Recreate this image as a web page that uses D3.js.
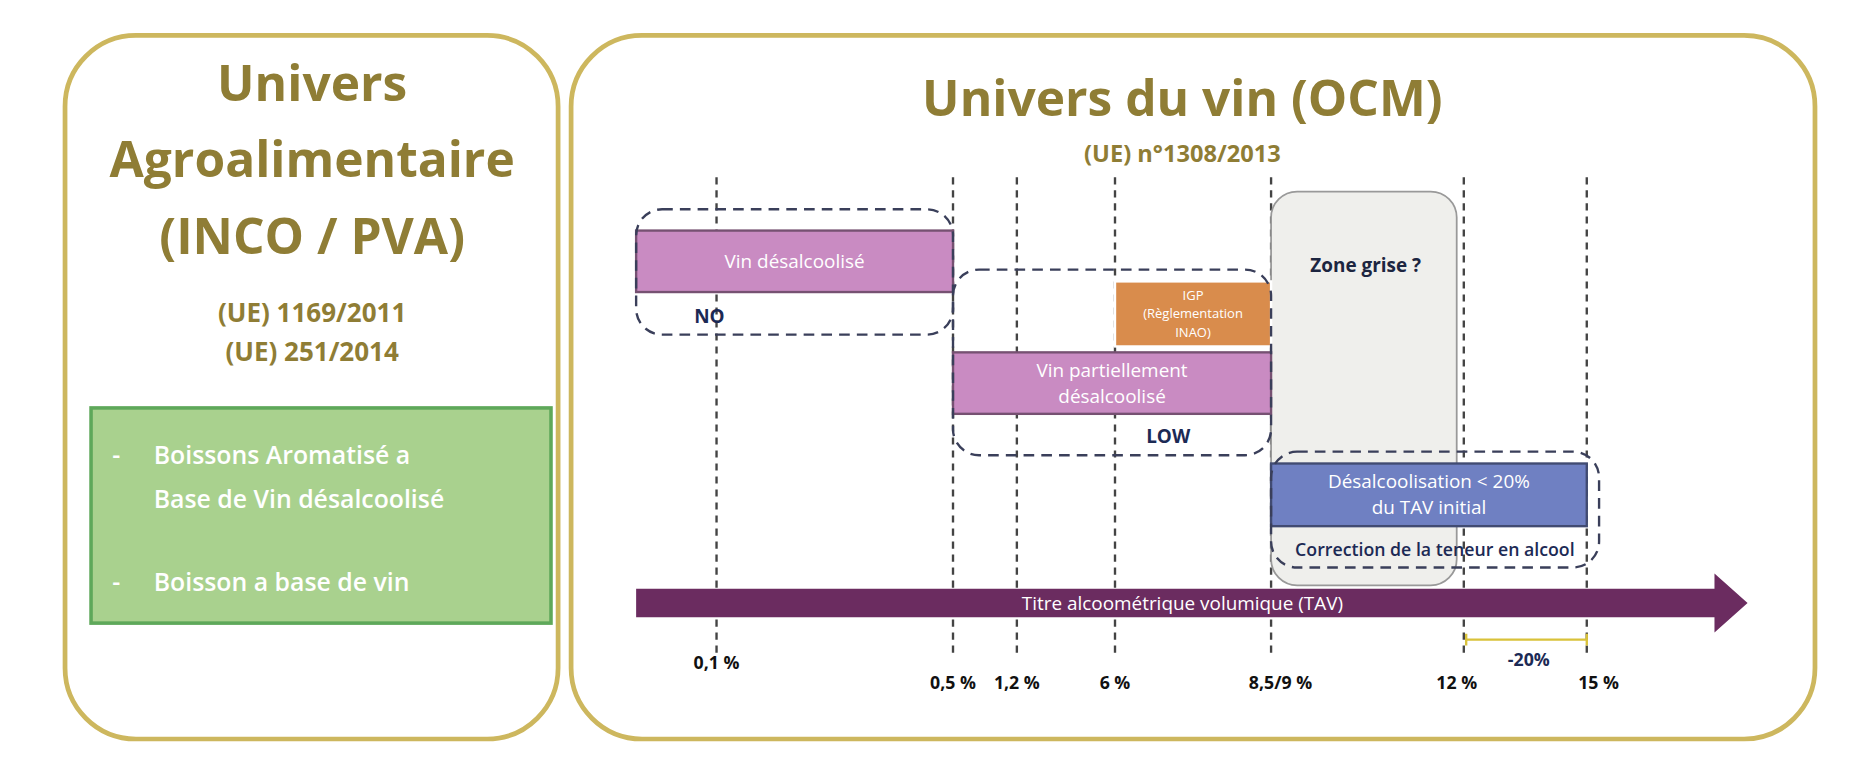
<!DOCTYPE html>
<html><head><meta charset="utf-8">
<script src="https://cdn.jsdelivr.net/npm/d3@7"></script>
<style>body{margin:0;background:#fff}text{font-family:"Open Sans",Lato,sans-serif}</style>
</head><body><div id="chart"></div>
<script>
const tickLabels = ['0,1 %', '0,5 %', '1,2 %', '6 %', '8,5/9 %', '12 %', '15 %']
const tickIndex = [0, 1, 2, 3, 4, 5, 6]
const bars = [
  {label: ['Vin désalcoolisé'], from: -0.6, to: 1, row: 0, fill: '#c98bc2'},
  {label: ['IGP', '(Règlementation', 'INAO)'], from: 3, to: 4, row: 1, fill: '#d98c4c'},
  {label: ['Vin partiellement', 'désalcoolisé'], from: 1, to: 4, row: 2, fill: '#c98bc2'},
  {label: ['Désalcoolisation < 20%', 'du TAV initial'], from: 4, to: 6, row: 3, fill: '#6f80c2'}
]
const groups = [
  {label: 'NO', from: -0.6, to: 1, y0: 177, y1: 283},
  {label: 'LOW', from: 1, to: 4, y0: 228, y1: 385},
  {label: 'Correction de la teneur en alcool', from: 4, to: 6.1, y0: 382, y1: 480}
]

const svg0 = d3.select('#chart').append('svg').attr('width', 1854).attr('height', 778)
// the layout was measured on a 1568px wide copy, scale it up to the page
const svg = svg0.append('g').attr('transform', `scale(${1854 / 1568})`)
const gold = '#8f7d35'

// piecewise position scale for the TAV thresholds
const x = d3.scaleLinear().domain([-0.6, 0, 1, 2, 3, 4, 5, 6])
  .range([538, 606, 806, 860, 943, 1075, 1238, 1342])

// frames
svg.append('rect').attr('x', 55).attr('y', 30).attr('width', 417).attr('height', 595).attr('rx', 60)
  .attr('fill', 'none').attr('stroke', '#cdb75e').attr('stroke-width', 4)
svg.append('rect').attr('x', 483).attr('y', 30).attr('width', 1052).attr('height', 595).attr('rx', 60)
  .attr('fill', 'none').attr('stroke', '#cdb75e').attr('stroke-width', 4)

// left panel
const left = [['Univers', 85, 42], ['Agroalimentaire', 150, 42], ['(INCO / PVA)', 215, 42], ['(UE) 1169/2011', 272, 22], ['(UE) 251/2014', 305, 22]]
left.forEach(([t, y, s]) => svg.append('text').attr('x', 264).attr('y', y).attr('text-anchor', 'middle')
  .attr('font-size', s).attr('font-weight', 'bold').attr('fill', gold).text(t))
svg.append('rect').attr('x', 77).attr('y', 345).attr('width', 389).attr('height', 182)
  .attr('fill', '#a9d18e').attr('stroke', '#5ea85a').attr('stroke-width', 3)
const greenTxt = [['-', 95, 392], ['Boissons Aromatisé a', 130, 392], ['Base de Vin désalcoolisé', 130, 430], ['-', 95, 500], ['Boisson a base de vin', 130, 500]]
greenTxt.forEach(([t, xx, y]) => svg.append('text').attr('x', xx).attr('y', y).attr('font-size', 21)
  .attr('font-weight', 600).attr('fill', '#fff').text(t))

// right title
svg.append('text').attr('x', 1000).attr('y', 98).attr('text-anchor', 'middle').attr('font-size', 42)
  .attr('font-weight', 'bold').attr('fill', gold).text('Univers du vin (OCM)')
svg.append('text').attr('x', 1000).attr('y', 137).attr('text-anchor', 'middle').attr('font-size', 20)
  .attr('font-weight', 'bold').attr('fill', gold).text('(UE) n°1308/2013')

// dashed verticals
svg.selectAll('line.v').data(tickIndex).enter().append('line')
  .attr('x1', d => x(d)).attr('x2', d => x(d)).attr('y1', 150).attr('y2', 555)
  .attr('stroke', '#444').attr('stroke-width', 2).attr('stroke-dasharray', '6,5')

// zone grise
svg.append('rect').attr('x', x(4)).attr('y', 162).attr('width', 157).attr('height', 333).attr('rx', 22)
  .attr('fill', '#efefec').attr('stroke', '#999').attr('stroke-width', 1.5)
svg.append('text').attr('x', x(4) + 80).attr('y', 230).attr('text-anchor', 'middle').attr('font-size', 16)
  .attr('font-weight', 'bold').attr('fill', '#1c2540').text('Zone grise ?')

// bars
const rowY = [195, 238, 298, 392], rowH = [52, 55, 52, 53]
bars.forEach(b => {
  const y = rowY[b.row], h = rowH[b.row]
  svg.append('rect').attr('x', x(b.from)).attr('y', y).attr('width', x(b.to) - x(b.from)).attr('height', h)
    .attr('fill', b.fill).attr('stroke', b.row === 1 ? '#fff' : d3.color(b.fill).darker(1.5)).attr('stroke-width', 2)
  const fs = b.row === 1 ? 11 : 16, lh = b.row === 1 ? 16 : 22
  const cy = y + h / 2 - (b.label.length - 1) * lh / 2 + fs * 0.35
  b.label.forEach((t, i) => svg.append('text').attr('x', (x(b.from) + x(b.to)) / 2).attr('y', cy + i * lh)
    .attr('text-anchor', 'middle').attr('font-size', fs).attr('fill', '#fff').text(t))
})

// dashed groups
groups.forEach((g, i) => {
  svg.append('rect').attr('x', x(g.from)).attr('y', g.y0).attr('width', x(g.to) - x(g.from)).attr('height', g.y1 - g.y0)
    .attr('rx', 22).attr('fill', 'none').attr('stroke', '#3a3f5a').attr('stroke-width', 2).attr('stroke-dasharray', '9,6')
  const lx = i === 0 ? 600 : i === 1 ? 988 : (x(4) + x(6)) / 2 + 5
  const ly = i === 2 ? 470 : g.y1 - 10
  svg.append('text').attr('x', lx).attr('y', ly).attr('text-anchor', 'middle')
    .attr('font-size', i === 2 ? 15 : 16).attr('font-weight', i === 2 ? 600 : 'bold').attr('fill', '#1c2a55').text(g.label)
})

// TAV arrow
const ay = 510
svg.append('path').attr('d', `M${x(-0.6)},${ay - 12}H1450V${ay - 25}L1478,${ay}L1450,${ay + 25}V${ay + 12}H${x(-0.6)}Z`)
  .attr('fill', '#6b2c60')
svg.append('text').attr('x', 1000).attr('y', ay + 6).attr('text-anchor', 'middle').attr('font-size', 16)
  .attr('fill', '#fff').text('Titre alcoométrique volumique (TAV)')

// tick labels
svg.selectAll('text.tick').data(tickIndex).enter().append('text')
  .attr('x', d => x(d) + (d === 5 ? -6 : d === 6 ? 10 : d === 4 ? 8 : 0)).attr('y', d => d === 0 ? 566 : 583)
  .attr('text-anchor', 'middle').attr('font-size', 15).attr('font-weight', 'bold').attr('fill', '#111')
  .text(d => tickLabels[d])

// -20% span
svg.append('path').attr('d', `M${x(5) + 2},536V546M${x(5) + 2},541H${x(6)}M${x(6)},536V546`)
  .attr('stroke', '#d9c23a').attr('stroke-width', 2).attr('fill', 'none')
svg.append('text').attr('x', 1293).attr('y', 563).attr('text-anchor', 'middle').attr('font-size', 15)
  .attr('font-weight', 'bold').attr('fill', '#1c2a55').text('-20%')
</script></body></html>
